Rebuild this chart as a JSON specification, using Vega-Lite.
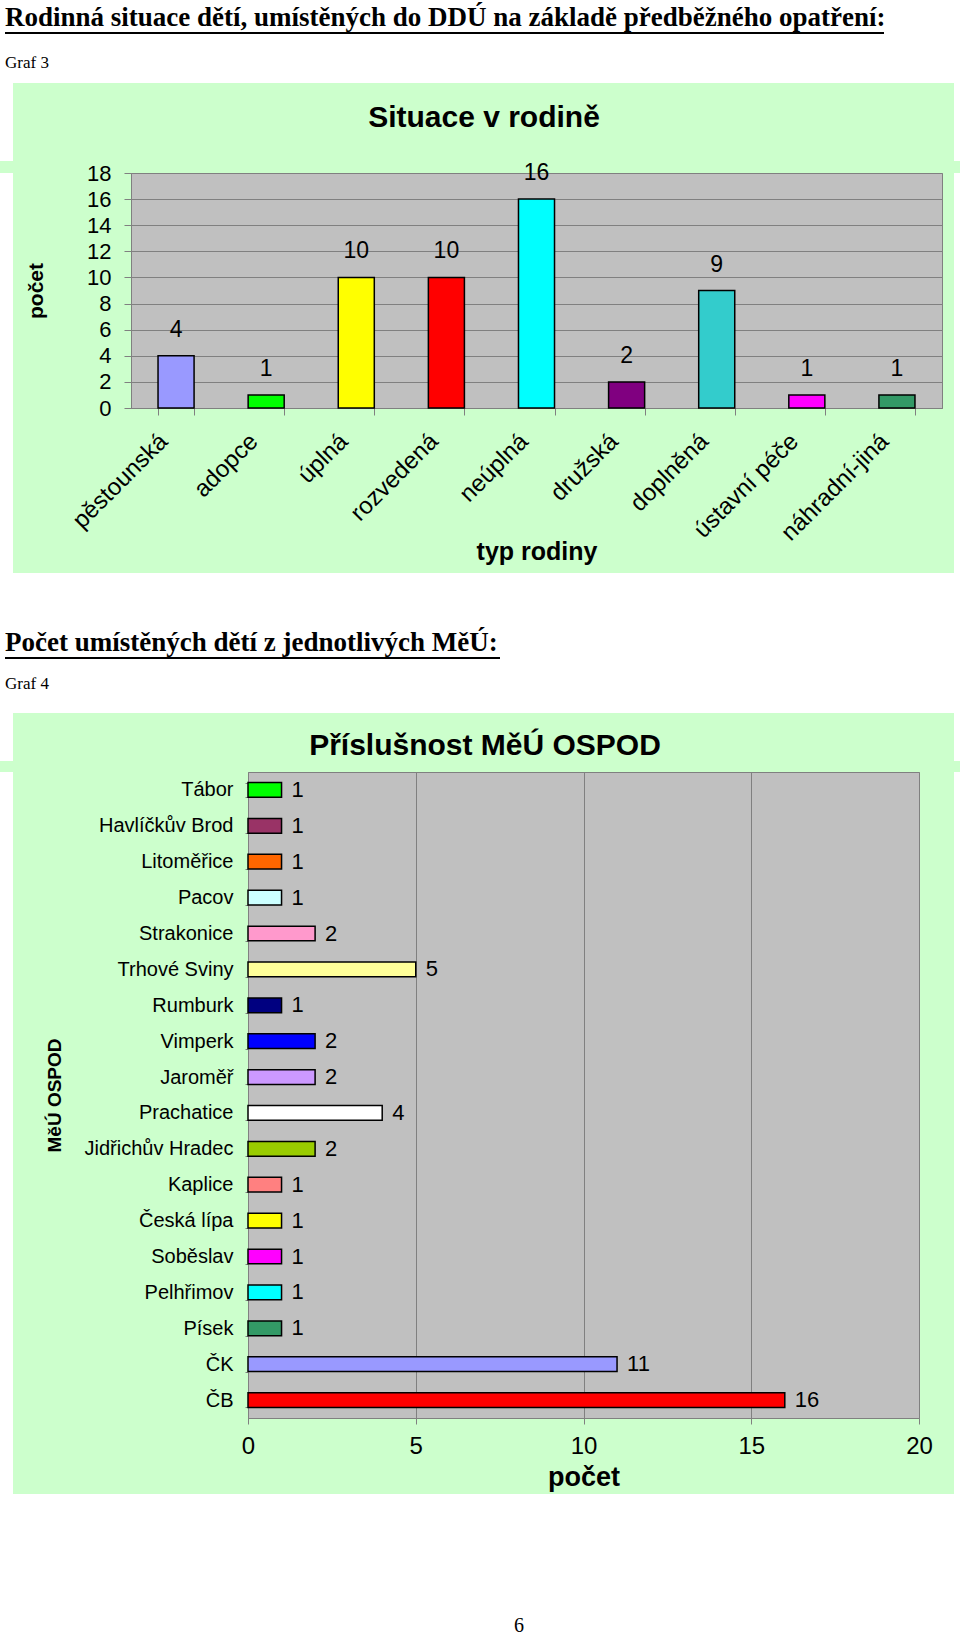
{
 "$schema": "https://vega.github.io/schema/vega-lite/v6.json",
 "background": "#CCFFCC",
 "padding": 0,
 "spacing": 0,
 "resolve": {"scale": {"color": "independent", "x": "independent", "y": "independent"}},
 "config": {"view": {"stroke": null}, "font": "Liberation Sans", "axis": {"labelColor": "black", "titleColor": "black"}},
 "vconcat": [
  {"width": 960, "height": 32, "data": {"values": []}, "mark": "rect", "view": {"fill": "white", "stroke": null},
   "title": {"text": "Rodinná situace dětí, umístěných do DDÚ na základě předběžného opatření:", "anchor": "start", "dx": 5, "offset": -32, "font": "Liberation Serif", "fontSize": 27, "fontWeight": "bold", "color": "black"}},
  {"hconcat": [
    {"width": 5, "height": 2, "data": {"values": []}, "mark": "rect", "view": {"fill": "white", "stroke": null}},
    {"width": 879, "height": 2, "data": {"values": []}, "mark": "rect", "view": {"fill": "black", "stroke": null}},
    {"width": 76, "height": 2, "data": {"values": []}, "mark": "rect", "view": {"fill": "white", "stroke": null}}
  ], "spacing": 0, "bounds": "flush"},
  {"width": 960, "height": 49, "data": {"values": []}, "mark": "rect", "view": {"fill": "white", "stroke": null},
   "title": {"text": "Graf 3", "anchor": "start", "dx": 5, "offset": -38, "font": "Liberation Serif", "fontSize": 17, "fontWeight": "normal", "color": "black"}},
  {"hconcat": [
    {"width": 13, "height": 78, "data": {"values": []}, "mark": "rect", "view": {"fill": "white", "stroke": null}},
    {"width": 941, "height": 78, "data": {"values": []}, "mark": "rect",
     "title": {"text": "Situace v rodině", "fontSize": 30, "fontWeight": "bold", "color": "black", "anchor": "middle", "dx": 0.5, "offset": -50}},
    {"width": 6, "height": 78, "data": {"values": []}, "mark": "rect", "view": {"fill": "white", "stroke": null}}
  ], "spacing": 0, "bounds": "flush"},
  {"hconcat": [
    {"width": 13, "height": 400, "data": {"values": []}, "mark": "rect", "view": {"fill": "white", "stroke": null}},
    {"width": 118, "height": 400, "data": {"values": []}, "mark": "rect"},
    {
     "width": 811, "height": 235,
     "view": {"fill": "#C0C0C0", "stroke": "#808080"},
     "data": {"values": [
       {"typ": "pěstounská", "pocet": 4},
       {"typ": "adopce", "pocet": 1},
       {"typ": "úplná", "pocet": 10},
       {"typ": "rozvedená", "pocet": 10},
       {"typ": "neúplná", "pocet": 16},
       {"typ": "družská", "pocet": 2},
       {"typ": "doplněná", "pocet": 9},
       {"typ": "ústavní péče", "pocet": 1},
       {"typ": "náhradní-jiná", "pocet": 1}
     ]},
     "encoding": {
       "x": {"field": "typ", "type": "nominal", "sort": null, "scale": {"paddingInner": 0.6, "paddingOuter": 0.3},
         "axis": {"title": "typ rodiny", "titleFontSize": 25, "titleFontWeight": "bold", "titleY": 143, "titleBaseline": "middle", "labelAngle": -45, "labelFontSize": 24, "labelPadding": 14, "labelOffset": -21, "tickBand": "extent", "tickSize": 7, "tickColor": "#808080", "domainColor": "#808080", "labelLimit": 300}},
       "y": {"field": "pocet", "type": "quantitative", "scale": {"domain": [0, 18], "nice": false},
         "axis": {"title": "počet", "titleFontSize": 21, "titleFontWeight": "bold", "titleX": -95, "titleBaseline": "middle", "values": [0, 2, 4, 6, 8, 10, 12, 14, 16, 18], "labelFontSize": 22, "labelPadding": 13, "tickSize": 7, "tickColor": "#808080", "domainColor": "#808080", "grid": true, "gridColor": "#808080", "gridWidth": 1, "labelFlush": false}}
     },
     "layer": [
       {"mark": {"type": "bar", "stroke": "black", "strokeWidth": 1.5},
        "encoding": {"color": {"field": "typ", "type": "nominal", "legend": null,
          "scale": {"domain": ["pěstounská", "adopce", "úplná", "rozvedená", "neúplná", "družská", "doplněná", "ústavní péče", "náhradní-jiná"],
                    "range": ["#9999FF", "#00FF00", "#FFFF00", "#FF0000", "#00FFFF", "#800080", "#33CCCC", "#FF00FF", "#339966"]}}}},
       {"mark": {"type": "text", "dy": -26, "fontSize": 23, "baseline": "middle", "color": "black"},
        "encoding": {"text": {"field": "pocet", "type": "quantitative"}}}
     ]
    },
    {"width": 12, "height": 400, "data": {"values": []}, "mark": "rect"},
    {"width": 6, "height": 400, "data": {"values": []}, "mark": "rect", "view": {"fill": "white", "stroke": null}}
  ], "spacing": 0, "bounds": "flush"},
  {"width": 960, "height": 84, "data": {"values": []}, "mark": "rect", "view": {"fill": "white", "stroke": null},
   "title": {"text": "Počet umístěných dětí z jednotlivých MěÚ:", "anchor": "start", "dx": 5, "offset": -84, "font": "Liberation Serif", "fontSize": 27, "fontWeight": "bold", "color": "black"}},
  {"hconcat": [
    {"width": 5, "height": 2, "data": {"values": []}, "mark": "rect", "view": {"fill": "white", "stroke": null}},
    {"width": 495, "height": 2, "data": {"values": []}, "mark": "rect", "view": {"fill": "black", "stroke": null}},
    {"width": 460, "height": 2, "data": {"values": []}, "mark": "rect", "view": {"fill": "white", "stroke": null}}
  ], "spacing": 0, "bounds": "flush"},
  {"width": 960, "height": 54, "data": {"values": []}, "mark": "rect", "view": {"fill": "white", "stroke": null},
   "title": {"text": "Graf 4", "anchor": "start", "dx": 5, "offset": -33.5, "font": "Liberation Serif", "fontSize": 17, "fontWeight": "normal", "color": "black"}},
  {"hconcat": [
    {"width": 13, "height": 48, "data": {"values": []}, "mark": "rect", "view": {"fill": "white", "stroke": null}},
    {"width": 941, "height": 48, "data": {"values": []}, "mark": "rect",
     "title": {"text": "Příslušnost MěÚ OSPOD", "fontSize": 30, "fontWeight": "bold", "color": "black", "anchor": "middle", "dx": 1.5, "offset": -48}},
    {"width": 6, "height": 48, "data": {"values": []}, "mark": "rect", "view": {"fill": "white", "stroke": null}}
  ], "spacing": 0, "bounds": "flush"},
  {"hconcat": [
    {"width": 13, "height": 722, "data": {"values": []}, "mark": "rect", "view": {"fill": "white", "stroke": null}},
    {"width": 235, "height": 722, "data": {"values": []}, "mark": "rect"},
    {
     "width": 671, "height": 646,
     "view": {"fill": "#C0C0C0", "stroke": "#808080"},
     "data": {"values": [
       {"mesto": "Tábor", "pocet": 1},
       {"mesto": "Havlíčkův Brod", "pocet": 1},
       {"mesto": "Litoměřice", "pocet": 1},
       {"mesto": "Pacov", "pocet": 1},
       {"mesto": "Strakonice", "pocet": 2},
       {"mesto": "Trhové Sviny", "pocet": 5},
       {"mesto": "Rumburk", "pocet": 1},
       {"mesto": "Vimperk", "pocet": 2},
       {"mesto": "Jaroměř", "pocet": 2},
       {"mesto": "Prachatice", "pocet": 4},
       {"mesto": "Jidřichův Hradec", "pocet": 2},
       {"mesto": "Kaplice", "pocet": 1},
       {"mesto": "Česká lípa", "pocet": 1},
       {"mesto": "Soběslav", "pocet": 1},
       {"mesto": "Pelhřimov", "pocet": 1},
       {"mesto": "Písek", "pocet": 1},
       {"mesto": "ČK", "pocet": 11},
       {"mesto": "ČB", "pocet": 16}
     ]},
     "encoding": {
       "y": {"field": "mesto", "type": "nominal", "sort": null, "scale": {"paddingInner": 0.59, "paddingOuter": 0.295},
         "axis": {"title": "MěÚ OSPOD", "titleFontSize": 19, "titleFontWeight": "bold", "titleX": -194, "titleBaseline": "middle", "labelFontSize": 20, "labelPadding": 12, "tickBand": "extent", "tickSize": 3, "tickColor": "#808080", "domainColor": "#808080", "labelLimit": 300}},
       "x": {"field": "pocet", "type": "quantitative", "scale": {"domain": [0, 20], "nice": false},
         "axis": {"title": "počet", "titleFontSize": 27, "titleFontWeight": "bold", "titleY": 59, "titleBaseline": "middle", "values": [0, 5, 10, 15, 20], "labelFontSize": 24, "labelPadding": 10, "tickSize": 6, "tickColor": "#808080", "domainColor": "#808080", "grid": true, "gridColor": "#808080", "gridWidth": 1, "labelFlush": false}}
     },
     "layer": [
       {"mark": {"type": "bar", "stroke": "black", "strokeWidth": 1.5},
        "encoding": {"color": {"field": "mesto", "type": "nominal", "legend": null,
          "scale": {"domain": ["Tábor", "Havlíčkův Brod", "Litoměřice", "Pacov", "Strakonice", "Trhové Sviny", "Rumburk", "Vimperk", "Jaroměř", "Prachatice", "Jidřichův Hradec", "Kaplice", "Česká lípa", "Soběslav", "Pelhřimov", "Písek", "ČK", "ČB"],
                    "range": ["#00FF00", "#993366", "#FF6600", "#CCFFFF", "#FF99CC", "#FFFF99", "#000080", "#0000FF", "#CC99FF", "#FFFFFF", "#99CC00", "#FF8080", "#FFFF00", "#FF00FF", "#00FFFF", "#339966", "#9999FF", "#FF0000"]}}}},
       {"mark": {"type": "text", "dx": 10, "align": "left", "fontSize": 22, "baseline": "middle", "color": "black"},
        "encoding": {"text": {"field": "pocet", "type": "quantitative"}}}
     ]
    },
    {"width": 35, "height": 722, "data": {"values": []}, "mark": "rect"},
    {"width": 6, "height": 722, "data": {"values": []}, "mark": "rect", "view": {"fill": "white", "stroke": null}}
  ], "spacing": 0, "bounds": "flush"},
  {"width": 960, "height": 143, "data": {"values": []}, "mark": "rect", "view": {"fill": "white", "stroke": null},
   "title": {"text": "6", "anchor": "middle", "dx": 39, "offset": -142, "font": "Liberation Serif", "fontSize": 20, "fontWeight": "normal", "color": "black"}}
 ]
}
